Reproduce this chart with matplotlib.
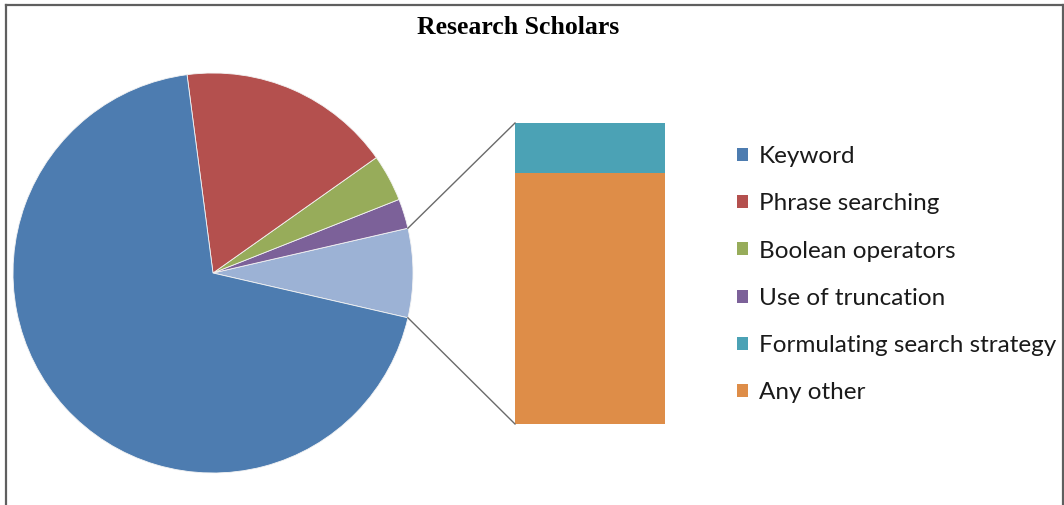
import numpy as np
import matplotlib.pyplot as plt
from matplotlib.patches import Patch
from matplotlib.lines import Line2D

# Data (percent of research scholars)
labels = ["Keyword", "Phrase searching", "Boolean operators", "Use of truncation",
          "Formulating search strategy", "Any other"]
pie_values = [69.4, 17.3, 3.8, 2.4]        # Keyword .. truncation
bar_values = [1.2, 6.0]                     # Formulating, Any other

colors = ["#4D7CB0", "#B4504E", "#97AC5A", "#7C6199", "#4BA2B5", "#DE8D48"]
other_color = "#9CB2D5"

W, H = 1064, 505
fig = plt.figure(figsize=(W / 100, H / 100), dpi=100)
ax = fig.add_axes([0, 0, 1, 1])

# pie: secondary slice centred on 0 degrees, going counterclockwise
other = sum(bar_values)
total = sum(pie_values) + other
vals = [other] + pie_values[::-1]
cols = [other_color] + colors[:4][::-1]
start = -other / total * 360 / 2
cx, cy, r = 213, 232, 200
ax.pie(vals, colors=cols, startangle=start, counterclock=True,
       center=(cx, cy), radius=r, frame=True,
       wedgeprops=dict(linewidth=0.6, edgecolor="#f4f4f4"))
ax.set_xlim(0, W)
ax.set_ylim(0, H)
ax.set_aspect("equal")
ax.axis("off")

# bar of the "other" slice
bx, bw = 590, 150
by0, bh = 81, 301
scale = bh / other
ax.bar(bx, bar_values[1] * scale, width=bw, bottom=by0, color=colors[5])
ax.bar(bx, bar_values[0] * scale, width=bw, bottom=by0 + bar_values[1] * scale,
       color=colors[4])

# connector lines
a1 = np.deg2rad(start + other / total * 360)
a0 = np.deg2rad(start)
ax.plot([cx + r * np.cos(a1), bx - bw / 2], [cy + r * np.sin(a1), by0 + bh],
        color="#6a6a6a", lw=1)
ax.plot([cx + r * np.cos(a0), bx - bw / 2], [cy + r * np.sin(a0), by0],
        color="#6a6a6a", lw=1)

# title
ax.text(518, H - 28, "Research Scholars", ha="center", va="center",
        fontsize=18.5, fontweight="bold", family="Liberation Serif")

# legend
handles = [Patch(facecolor=c, edgecolor="none") for c in colors]
fig.legend(handles, labels, loc="upper left", bbox_to_anchor=(737 / W, 1 - 146 / H),
           frameon=False, borderpad=0, handlelength=0.45, handleheight=0.45,
           handletextpad=0.45, labelspacing=1.08, borderaxespad=0,
           prop={"family": "Lato", "size": 17.5}, labelcolor="#1a1a1a")

# chart border
fig.add_artist(Line2D([5.5 / W, 5.5 / W], [0, 1 - 4.5 / H], color="#5f5f5f", lw=1.6))
fig.add_artist(Line2D([5.5 / W, 1062.5 / W], [1 - 4.5 / H, 1 - 4.5 / H],
                      color="#5f5f5f", lw=1.6))
fig.add_artist(Line2D([1062.5 / W, 1062.5 / W], [0, 1 - 4.5 / H], color="#5f5f5f", lw=1.6))

fig.savefig("out.png", dpi=100, facecolor="white")
